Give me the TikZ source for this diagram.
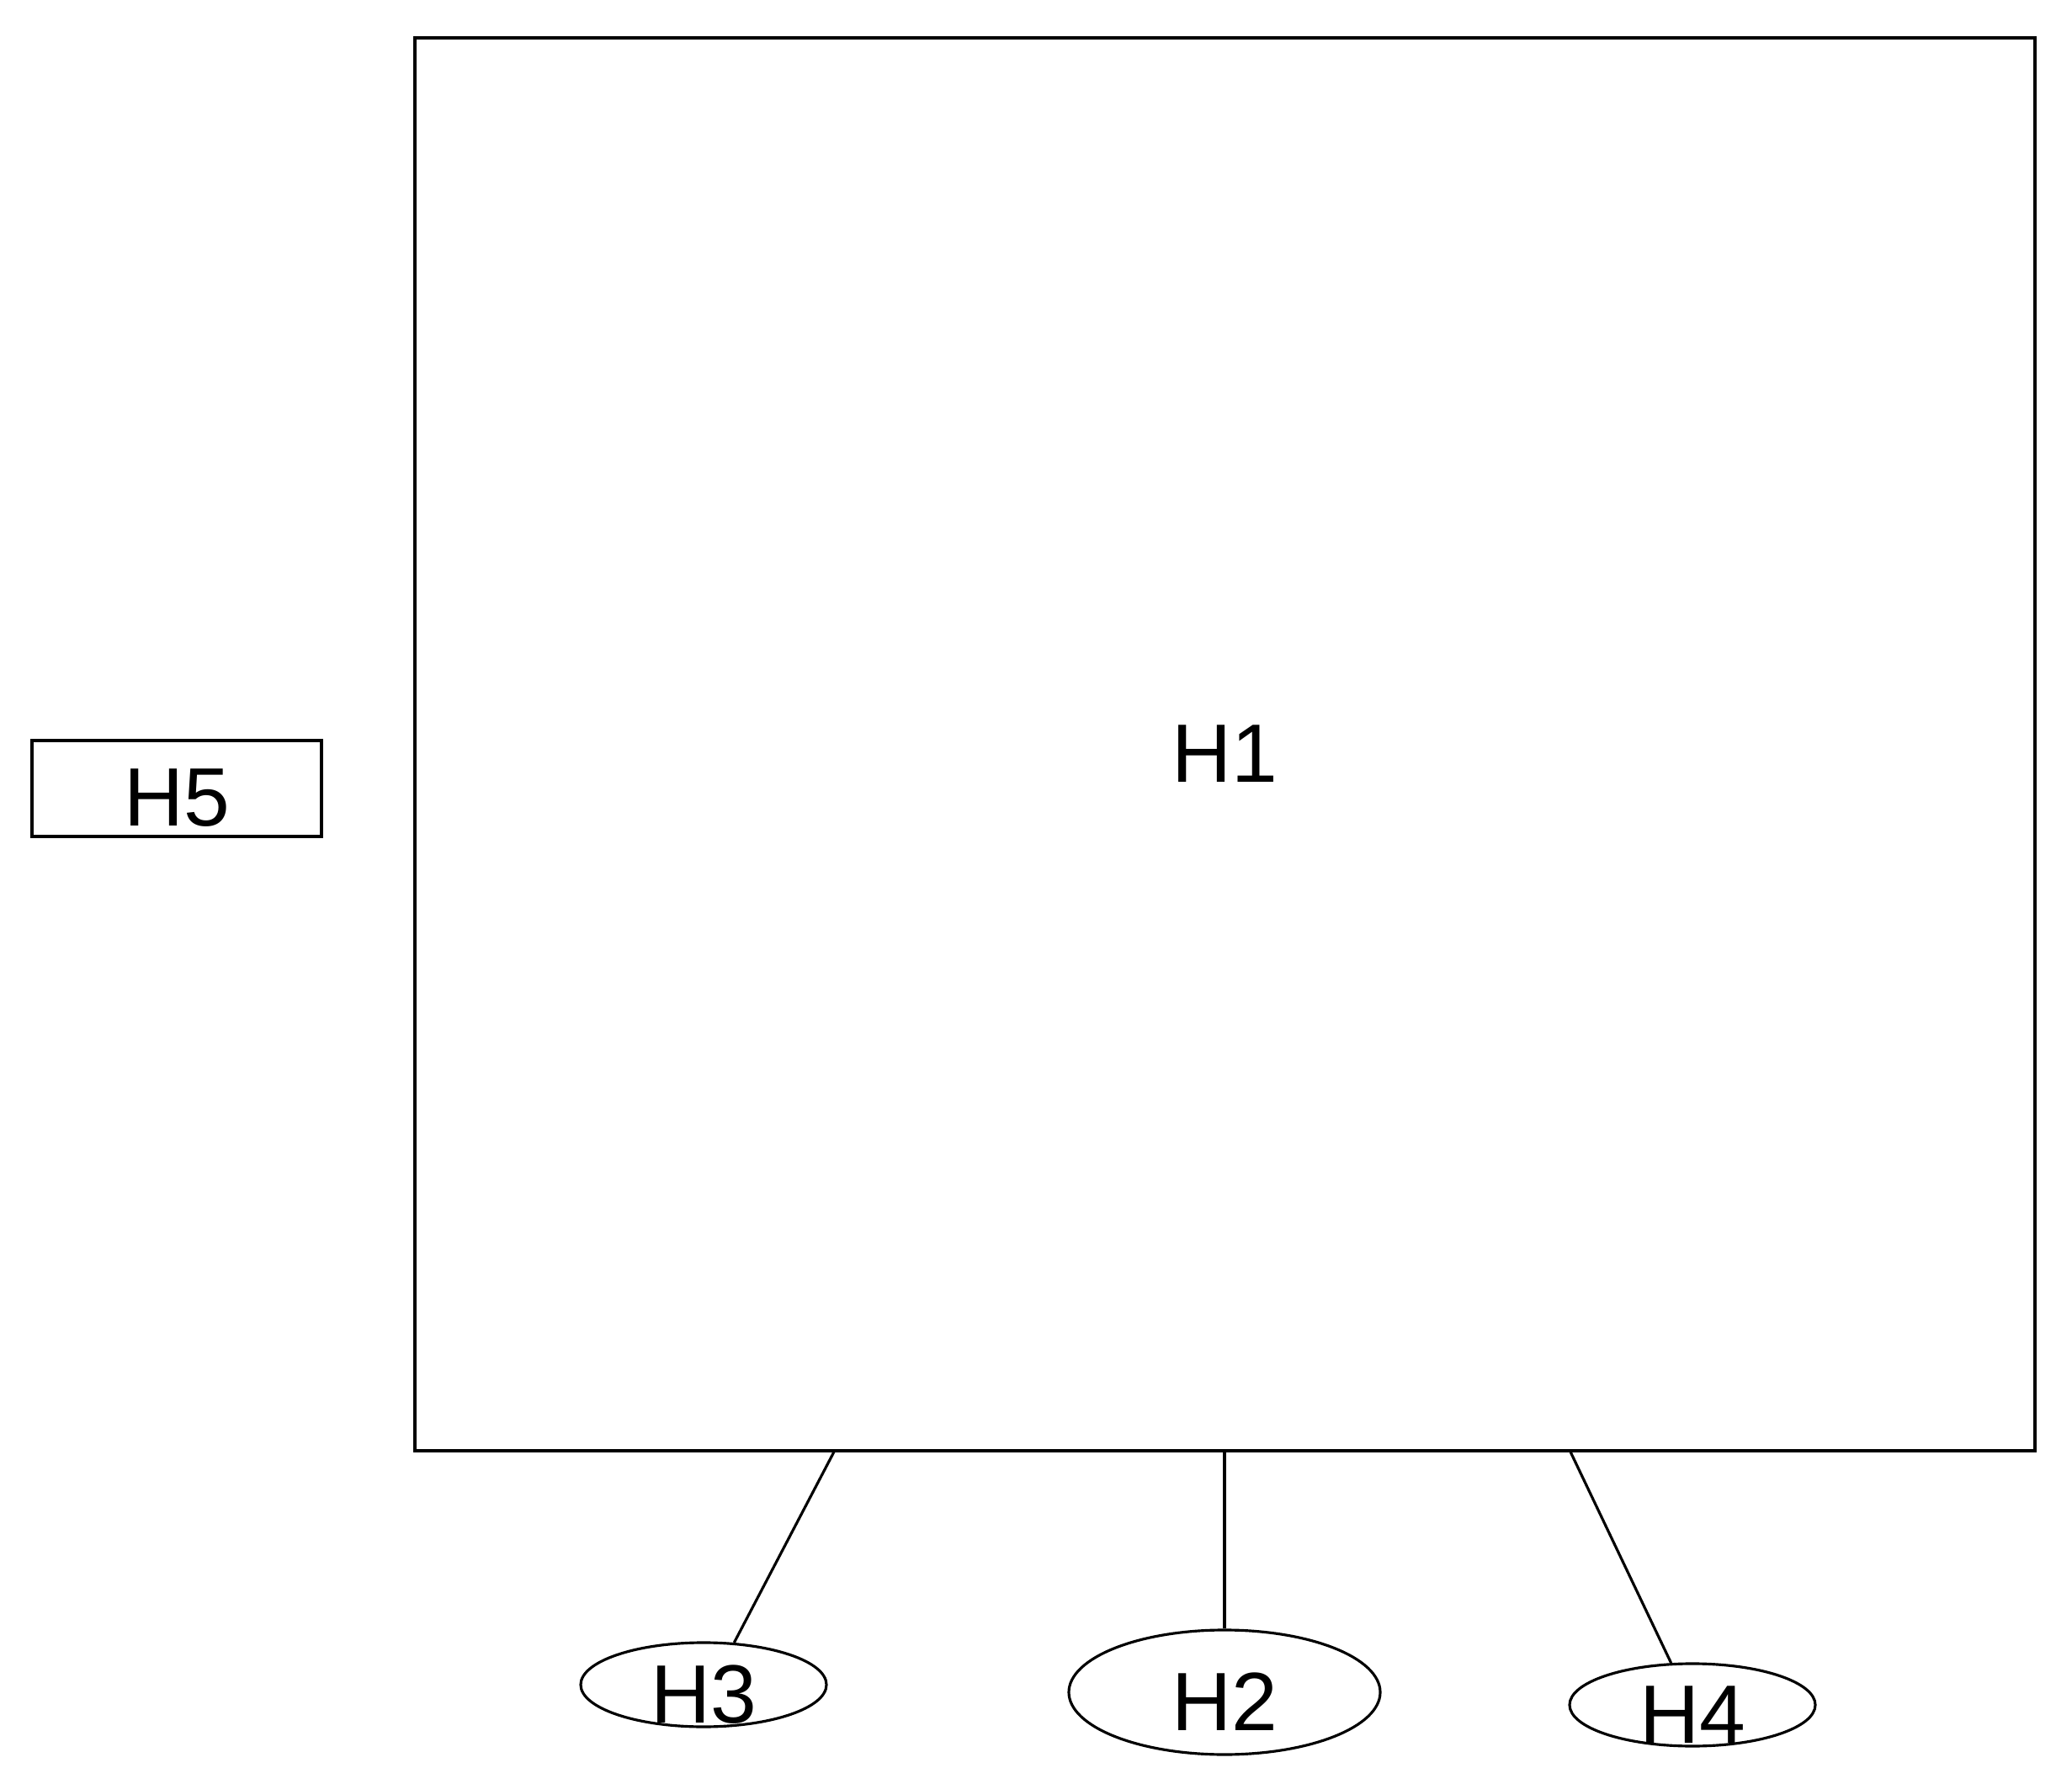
\documentclass[tikz,border=0pt]{standalone}
\usepackage{fontspec}
\setmainfont{Liberation Sans}
\usetikzlibrary{shapes.geometric}
\usetikzlibrary{positioning,calc}

\tikzset{
   htext/.style={font=\fontsize{28}{32}\selectfont, text height=0.9cm, text depth=0pt, inner sep=0pt},
   hbox/.style={draw, rectangle, line width=0.9pt, htext},
   hell/.style={draw, ellipse, line width=0.9pt, inner sep=0pt},
   link/.style={line width=0.9pt}
}

\begin{document}
\begin{tikzpicture}
   \useasboundingbox (0,0) rectangle (24.62,-21.2);

   % main block
   \node[hbox, minimum width=19.25cm, minimum height=16.79cm] (h1) at (14.555,-8.845) {H1};
   \node[hbox, minimum width=3.44cm, minimum height=1.14cm]   (h5) at (2.10,-9.37)    {H5};

   % lower ellipses
   \node[hell, minimum width=2.92cm, minimum height=1.00cm,
         label={[htext]center:H3}] (h3) at (8.36,-20.02)  {};
   \node[hell, minimum width=3.70cm, minimum height=1.48cm,
         label={[htext]center:H2}] (h2) at (14.55,-20.11) {};
   \node[hell, minimum width=2.92cm, minimum height=0.98cm,
         label={[htext]center:H4}] (h4) at (20.11,-20.26) {};

   % attach points on the bottom edge
   \coordinate (t3) at ($(h1.south west)!0.259!(h1.south east)$);
   \coordinate (t4) at ($(h1.south west)!0.713!(h1.south east)$);

   \draw[link] (t3) -- (h3.54);
   \draw[link] (h1.south -| h2.north) -- (h2.north);
   \draw[link] (t4) -- (h4.117);
\end{tikzpicture}
\end{document}
